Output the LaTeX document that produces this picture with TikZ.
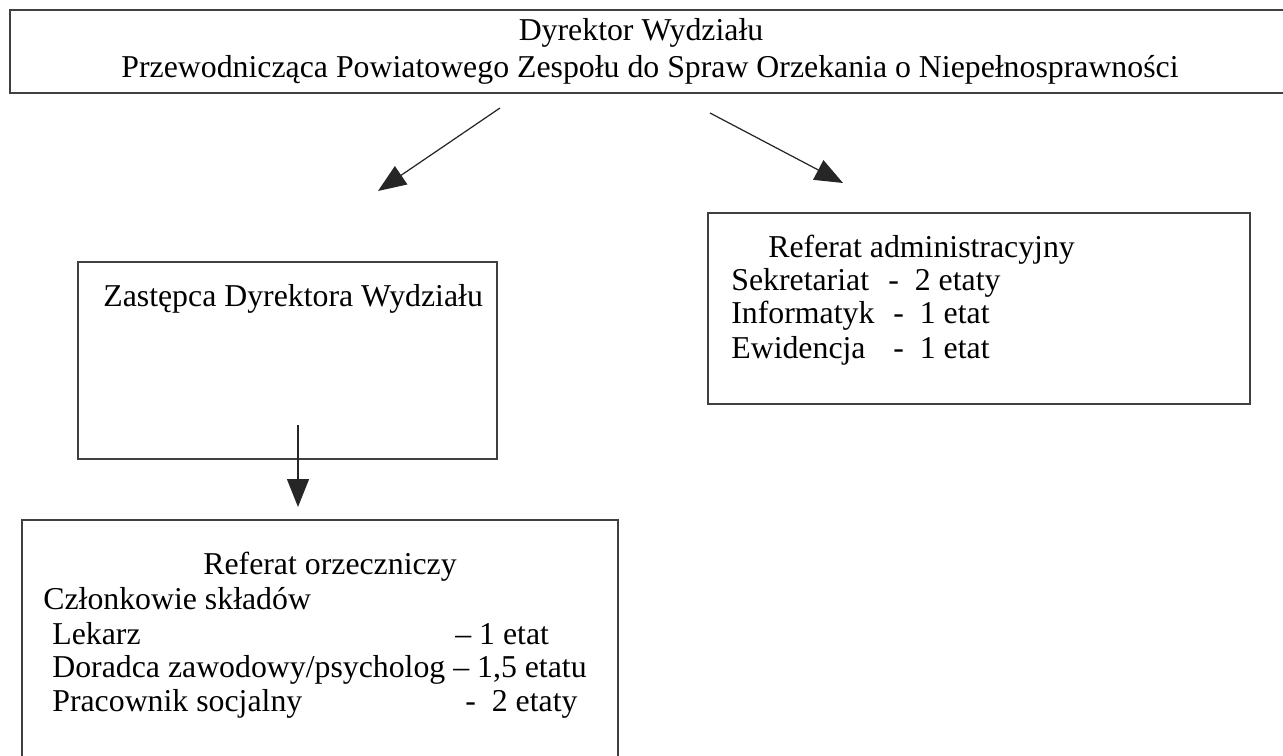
\documentclass[tikz,border=0pt]{standalone}
\usepackage{fontspec}
\setmainfont{Liberation Serif}
\usetikzlibrary{arrows.meta,fit}

\tikzset{
	box/.style={draw=black!75, line width=0.7pt, inner sep=0pt},
	txt/.style={inner sep=0pt, font=\fontsize{18.1}{20}\selectfont, text height=0.7em, text depth=0.25em},
	arr/.style={line width=0.7pt, draw=black!85, -{Triangle[length=0.56cm,width=0.44cm]}}
}

\begin{document}
\begin{tikzpicture}[x=0.02cm, y=-0.02cm]
			%%%%% START %%%%%
			\useasboundingbox (0, 0) rectangle (1283, 756);
			
			\node[box, fit={(10, 10) (1292, 93)}] (dyrektor) {};
			\node[txt] (dyr1) at (641, 37) {Dyrektor Wydziału};
			\node[txt] (dyr2) at (650, 74) {Przewodnicząca Powiatowego Zespołu do Spraw Orzekania o Niepełnosprawności};
			
			\node[box, fit={(78, 262) (497, 459)}] (zastepca) {};
			\node[txt, anchor=west] (zast1) at (103, 303) {Zastępca Dyrektora Wydziału};
			
			\node[box, fit={(708, 213) (1250, 404)}] (administr) {};
			\node[txt, anchor=west] (adm0) at (768, 254) {Referat administracyjny};
			\node[txt, anchor=west] (adm1) at (731, 287) {Sekretariat};
			\node[txt, anchor=west] (adm1b) at (888, 287) {-\ \ 2 etaty};
			\node[txt, anchor=west] (adm2) at (731, 320) {Informatyk};
			\node[txt, anchor=west] (adm2b) at (893, 320) {-\ \ 1 etat};
			\node[txt, anchor=west] (adm3) at (731, 355) {Ewidencja};
			\node[txt, anchor=west] (adm3b) at (893, 355) {-\ \ 1 etat};
			
			\node[box, fit={(22, 520) (618, 770)}] (orzecz) {};
			\node[txt, anchor=west] (orz0) at (203, 571) {Referat orzeczniczy};
			\node[txt, anchor=west] (orz1) at (43, 606) {Członkowie składów};
			\node[txt, anchor=west] (orz2) at (52, 641) {Lekarz};
			\node[txt, anchor=west] (orz2b) at (455, 641) {– 1 etat};
			\node[txt, anchor=west] (orz3) at (52, 674) {Doradca zawodowy/psycholog – 1,5 etatu};
			\node[txt, anchor=west] (orz4) at (52, 708) {Pracownik socjalny};
			\node[txt, anchor=west] (orz4b) at (465, 708) {-\ \ 2 etaty};
			
			% arrows
			\coordinate (a1s) at (500, 108);
			\coordinate (a1e) at (378, 191);
			\coordinate (a2s) at (710, 113);
			\coordinate (a2e) at (843, 183);
			\coordinate (a3s) at (298, 425);
			\coordinate (a3e) at (298, 507);
			\draw[arr] (a1s) -- (a1e);
			\draw[arr] (a2s) -- (a2e);
			\draw[arr] (a3s) -- (a3e);
			%%%%% END %%%%%
\end{tikzpicture}
\end{document}
